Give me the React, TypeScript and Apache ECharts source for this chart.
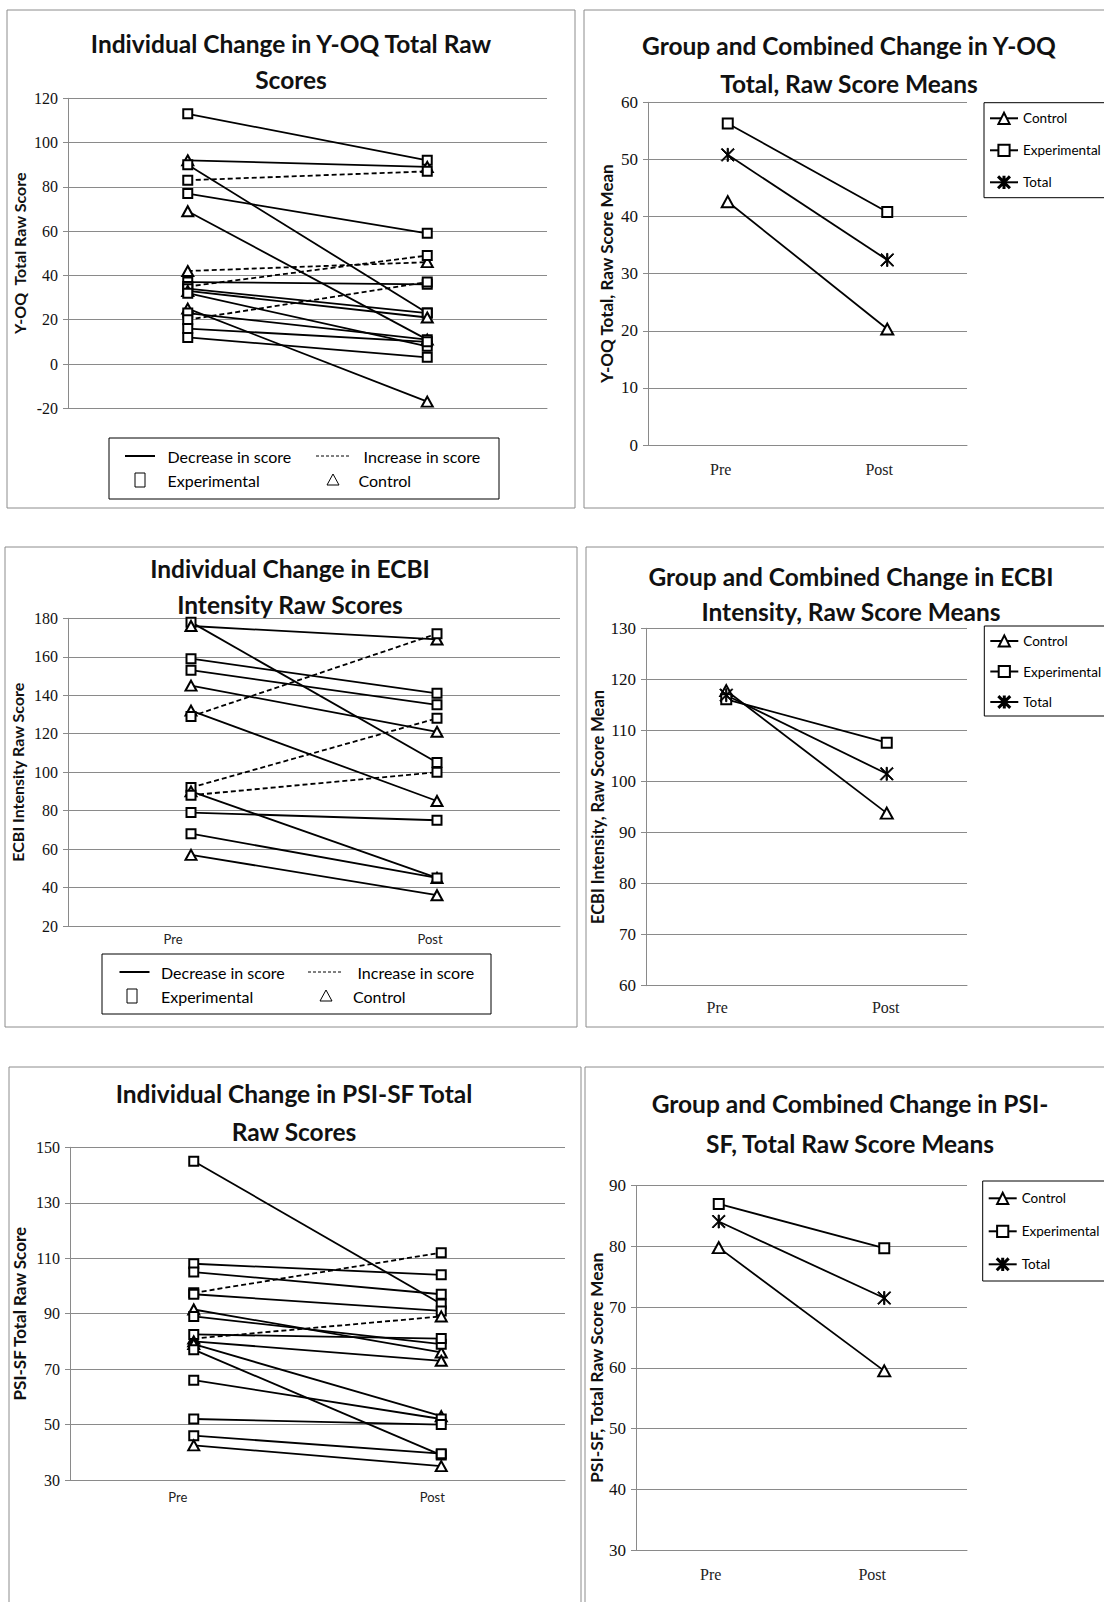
import React, { useEffect, useRef } from 'react';
import * as echarts from 'echarts';

// ---------- data ----------
const timePoints = ['Pre', 'Post'];

// Y-OQ individual change (E = experimental, C = control)
const yoqGroup = ['E', 'C', 'E', 'E', 'E', 'C', 'C', 'E', 'E', 'E', 'C', 'E', 'C', 'E', 'E', 'E', 'E'];
const yoqPre = [113, 92, 90, 83, 77, 69, 42, 37, 35, 34, 33, 32, 25, 23, 20, 16, 12];
const yoqPost = [92, 89, 23, 87, 59, 11, 46, 36, 49, 23, 21, 8, -17, 11, 37, 10, 3];

// ECBI intensity individual change
const ecbiGroup = ['E', 'C', 'E', 'E', 'C', 'C', 'E', 'E', 'C', 'E', 'E', 'E', 'C'];
const ecbiPre = [178, 176, 159, 153, 145, 132, 129, 92, 90, 88, 79, 68, 57];
const ecbiPost = [105, 169, 141, 135, 121, 85, 172, 128, 45, 100, 75, 45, 36];

// PSI-SF total individual change
const psiGroup = ['E', 'E', 'E', 'E', 'E', 'C', 'E', 'C', 'E', 'C', 'C', 'E', 'E', 'E', 'E', 'C'];
const psiPre = [145, 108, 105, 97.5, 97, 91.5, 89, 81, 82.5, 80, 79, 77, 66, 52, 46, 42.5];
const psiPost = [93.5, 104, 97, 112, 91, 76, 79, 89, 81, 73, 53, 39, 52, 50, 39.5, 35];

// group means
const yoqControl = [42.6, 20.3];
const yoqExperimental = [56.3, 40.8];
const yoqTotal = [50.8, 32.4];

const ecbiControl = [117.8, 93.8];
const ecbiExperimental = [116.1, 107.6];
const ecbiTotal = [116.9, 101.5];

const psiControl = [79.8, 59.5];
const psiExperimental = [87.0, 79.7];
const psiTotal = [84.1, 71.5];

const groupNames = ['Control', 'Experimental', 'Total'];

// ---------- styling ----------
const SANS = 'Lato, "Noto Sans", sans-serif';
const SERIF = '"Liberation Serif", "DejaVu Serif", serif';
const GRID_COLOR = '#8a8a8a';
const ASTERISK =
  'path://M9.1 0L10.9 0L10.9 20L9.1 20Z M0 1.3L1.3 0L20 18.7L18.7 20Z M18.7 0L20 1.3L1.3 20L0 18.7Z';

function individualSeries(pre: number[], post: number[], group: string[], idx: number, tag: string) {
  return pre.map((p, i) => ({
    type: 'line',
    name: tag + '-' + i,
    xAxisIndex: idx,
    yAxisIndex: idx,
    data: [p, post[i]],
    symbol: group[i] === 'E' ? 'emptyRect' : 'emptyTriangle',
    symbolSize: group[i] === 'E' ? 9 : [11, 10],
    lineStyle: { color: '#000', width: 1.8, type: post[i] > p ? [5, 3] : 'solid' },
    itemStyle: { color: '#000', borderColor: '#000', borderWidth: 1 },
    silent: true,
  }));
}

function groupSeries(control: number[], exp: number[], total: number[], idx: number) {
  const base = (name: string, data: number[], symbol: string, size: any) => ({
    type: 'line',
    name,
    xAxisIndex: idx,
    yAxisIndex: idx,
    data,
    symbol,
    symbolSize: size,
    lineStyle: { color: '#000', width: 1.8 },
    itemStyle: { color: '#000', borderColor: '#000', borderWidth: 1 },
    silent: true,
  });
  return [
    base('Control', control, 'emptyTriangle', [12, 11]),
    base('Experimental', exp, 'emptyRect', 10),
    base('Total', total, ASTERISK, 13),
  ];
}

const grids = [
  { left: 68, top: 98.3, width: 479, height: 310 },
  { left: 648, top: 102.3, width: 319, height: 342.7 },
  { left: 68, top: 618.3, width: 492, height: 307.7 },
  { left: 646, top: 628.3, width: 321, height: 357.4 },
  { left: 70, top: 1147.3, width: 495, height: 332.7 },
  { left: 636, top: 1185.7, width: 331, height: 364.3 },
];

const yAxisSpecs = [
  { min: -20, max: 120, interval: 20, name: 'Y-OQ  Total Raw Score', gap: 41, size: 16 },
  { min: 0, max: 60, interval: 10, name: 'Y-OQ Total, Raw Score Mean', gap: 33, size: 17 },
  { min: 20, max: 180, interval: 20, name: 'ECBI Intensity Raw Score', gap: 42.5, size: 16 },
  { min: 60, max: 130, interval: 10, name: 'ECBI Intensity, Raw Score Mean', gap: 40, size: 16.5 },
  { min: 30, max: 150, interval: 20, name: 'PSI-SF Total Raw Score', gap: 42, size: 17 },
  { min: 30, max: 90, interval: 10, name: 'PSI-SF, Total Raw Score Mean', gap: 30, size: 17.5 },
];

// label font + per-label horizontal shift [Pre, Post] (px, negative = left)
const xLabelSpecs = [
  { show: false, font: SANS, size: 13, margin: 6, shift: [0, 0] },
  { show: true, font: SERIF, size: 16, margin: 16, shift: [-7, -8] },
  { show: true, font: SANS, size: 13, margin: 6, shift: [-18, -7] },
  { show: true, font: SERIF, size: 16, margin: 14, shift: [-9, -1] },
  { show: true, font: SANS, size: 13, margin: 10, shift: [-16, -9] },
  { show: true, font: SERIF, size: 16, margin: 16, shift: [-8, -12] },
];

function titleText(text: string, x: number, y: number, lh: number) {
  return {
    type: 'text',
    z: 10,
    style: {
      text,
      x,
      y,
      align: 'center',
      verticalAlign: 'top',
      fontFamily: SANS,
      fontSize: 24.5,
      fontWeight: 'bold',
      lineHeight: lh,
      fill: '#111',
    },
  };
}

function border(x: number, y: number, w: number, h: number) {
  return {
    type: 'rect',
    z: 0,
    shape: { x, y, width: w, height: h },
    style: { fill: 'none', stroke: '#8c8c8c', lineWidth: 1 },
  };
}

function lbl(text: string, x: number, y: number) {
  return {
    type: 'text',
    z: 10,
    style: { text, x, y, verticalAlign: 'middle', fontFamily: SANS, fontSize: 16, fill: '#000' },
  };
}

function indivLegend(bx: number, by: number, bw: number, bh: number, r1: number, r2: number, c: any) {
  return [
    {
      type: 'rect',
      z: 10,
      shape: { x: bx, y: by, width: bw, height: bh },
      style: { fill: '#fff', stroke: '#000', lineWidth: 1 },
    },
    { type: 'line', z: 11, shape: { x1: c.l1, y1: r1, x2: c.l1 + 30, y2: r1 }, style: { stroke: '#000', lineWidth: 2 } },
    lbl('Decrease in score', c.t1, r1),
    {
      type: 'line',
      z: 11,
      shape: { x1: c.d1, y1: r1, x2: c.d1 + 34, y2: r1 },
      style: { stroke: '#000', lineWidth: 1, lineDash: [3, 2] },
    },
    lbl('Increase in score', c.t2, r1),
    {
      type: 'rect',
      z: 11,
      shape: { x: c.sq - 5, y: r2 - 7, width: 10, height: 14 },
      style: { fill: 'none', stroke: '#000', lineWidth: 1 },
    },
    lbl('Experimental', c.t1, r2),
    {
      type: 'polygon',
      z: 11,
      shape: { points: [[c.tr - 6, r2 + 5], [c.tr + 6, r2 + 5], [c.tr, r2 - 6]] },
      style: { fill: 'none', stroke: '#000', lineWidth: 1 },
    },
    lbl('Control', c.t3, r2),
  ];
}

function groupLegend(left: number, top: number, gap: number, pad: number[]) {
  return {
    left,
    top,
    orient: 'vertical',
    data: groupNames,
    itemWidth: 28,
    itemHeight: 14,
    itemGap: gap,
    padding: pad,
    borderColor: '#000',
    borderWidth: 1,
    backgroundColor: '#fff',
    selectedMode: false,
    textStyle: { fontFamily: SANS, fontSize: 13.5, color: '#000', lineHeight: 14 },
  };
}

export default function App() {
  const ref = useRef<HTMLDivElement>(null);
  useEffect(() => {
    if (!ref.current) return;
    const chart = echarts.init(ref.current, undefined, { renderer: 'svg' });
    const option: any = {
      animation: false,
      backgroundColor: '#fff',
      grid: grids.map((g) => ({ ...g, containLabel: false })),
      xAxis: grids.map((_, i) => ({
        type: 'category',
        gridIndex: i,
        data: timePoints.map((t, k) => {
          const s = xLabelSpecs[i].shift[k];
          return {
            value: t,
            textStyle: { padding: s < 0 ? [0, -2 * s, 0, 0] : [0, 0, 0, 2 * s] },
          };
        }),
        boundaryGap: true,
        axisLine: { show: true, onZero: false, lineStyle: { color: GRID_COLOR, width: 1 } },
        axisTick: { show: false },
        splitLine: { show: false },
        axisLabel: {
          show: xLabelSpecs[i].show,
          fontFamily: xLabelSpecs[i].font,
          fontSize: xLabelSpecs[i].size,
          margin: xLabelSpecs[i].margin,
          color: '#222',
        },
      })),
      yAxis: yAxisSpecs.map((s, i) => ({
        type: 'value',
        gridIndex: i,
        min: s.min,
        max: s.max,
        interval: s.interval,
        name: s.name,
        nameLocation: 'middle',
        nameGap: s.gap,
        nameRotate: 90,
        nameTextStyle: { fontFamily: SANS, fontSize: s.size, fontWeight: 'bold', color: '#111' },
        axisLine: { show: true, lineStyle: { color: GRID_COLOR, width: 1 } },
        axisTick: { show: true, length: 5, lineStyle: { color: GRID_COLOR } },
        splitLine: { show: true, lineStyle: { color: GRID_COLOR, width: 1 } },
        axisLabel: { fontFamily: SERIF, fontSize: i % 2 === 0 ? 16 : 17, color: '#111', margin: 10 },
      })),
      legend: [
        groupLegend(984, 102.7, 18, [8.6, 12, 8.4, 5]),
        groupLegend(984.3, 626, 16.5, [8, 12, 7, 5]),
        groupLegend(982.7, 1181, 19, [10.3, 12, 9.7, 5]),
      ],
      graphic: [
        border(7, 10, 568, 498),
        border(584, 10, 540, 498),
        border(5, 547, 572, 480),
        border(586, 547, 540, 480),
        border(9, 1067, 572, 560),
        border(585, 1067, 540, 560),
        titleText('Individual Change in Y-OQ Total Raw\nScores', 291, 25, 36),
        titleText('Group and Combined Change in Y-OQ\nTotal, Raw Score Means', 849, 26, 38),
        titleText('Individual Change in ECBI\nIntensity Raw Scores', 290, 550, 36),
        titleText('Group and Combined Change in ECBI\nIntensity, Raw Score Means', 851, 559, 35),
        titleText('Individual Change in PSI-SF Total\nRaw Scores', 294, 1074, 38.6),
        titleText('Group and Combined Change in PSI-\nSF, Total Raw Score Means', 850, 1083, 40),
        ...indivLegend(109, 438, 390, 61, 456, 480, { l1: 125, t1: 167.5, d1: 316, t2: 363.6, sq: 140, tr: 333, t3: 358.5 }),
        ...indivLegend(102, 954, 389, 60, 972, 996, { l1: 119.5, t1: 161, d1: 308, t2: 357.5, sq: 132, tr: 326, t3: 353 }),
      ],
      series: [
        ...individualSeries(yoqPre, yoqPost, yoqGroup, 0, 'yoq'),
        ...groupSeries(yoqControl, yoqExperimental, yoqTotal, 1),
        ...individualSeries(ecbiPre, ecbiPost, ecbiGroup, 2, 'ecbi'),
        ...groupSeries(ecbiControl, ecbiExperimental, ecbiTotal, 3),
        ...individualSeries(psiPre, psiPost, psiGroup, 4, 'psi'),
        ...groupSeries(psiControl, psiExperimental, psiTotal, 5),
      ],
    };
    chart.setOption(option);
    return () => chart.dispose();
  }, []);
  return (
    <div
      ref={ref}
      style={{ position: 'absolute', left: 0, top: 0, width: 1104, height: 1602, background: '#fff' }}
    />
  );
}
